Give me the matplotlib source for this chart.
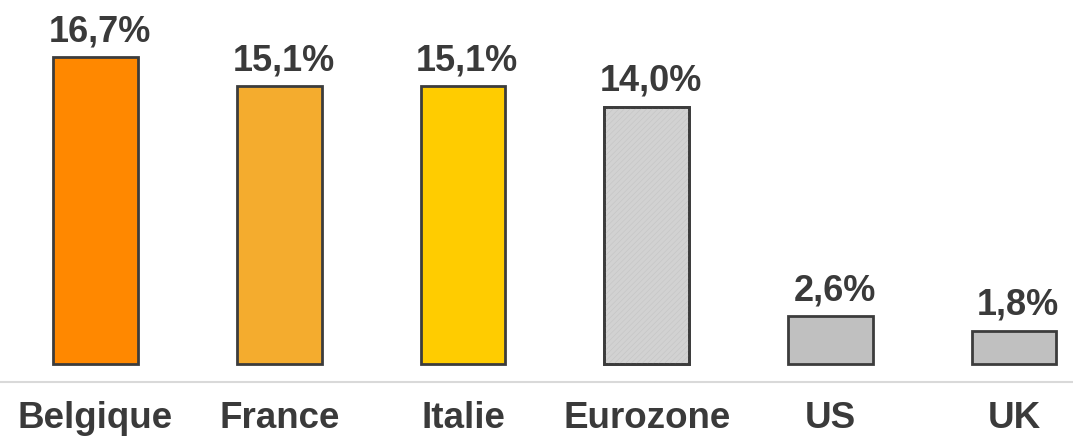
import matplotlib.pyplot as plt
import numpy as np

plt.rcParams['font.family'] = ['Liberation Sans', 'DejaVu Sans']
plt.rcParams['font.weight'] = 'bold'
plt.rcParams['hatch.linewidth'] = 0.4

# données
categories = ['Belgique', 'France', 'Italie', 'Eurozone', 'US', 'UK']
values = [16.7, 15.1, 15.1, 14.0, 2.6, 1.8]
colors = ['#FF8800', '#F4AC2E', '#FFCC00', '#D2D2D2', '#C0C0C0', '#C0C0C0']

text_color = '#3A3A3A'
edge_color = '#3C3C3C'

x = np.arange(len(categories))

fig = plt.figure(figsize=(10.73, 4.36), dpi=100)
ax = fig.add_axes([0, 0.1239, 1, 0.8761])

bars = ax.bar(x, values, width=0.46, color=colors, edgecolor=edge_color, linewidth=2, zorder=2)

# texture fine sur la barre Eurozone
ax.bar(x[3], values[3], width=0.46, color='none', edgecolor='#C4C4C4',
       hatch='//////', linewidth=0, zorder=3)
ax.bar(x[3], values[3], width=0.46, color='none', edgecolor=edge_color,
       linewidth=2, zorder=4)

for xi, v in zip(x, values):
    ax.annotate(f'{v:.1f}%'.replace('.', ','), (xi, v), xytext=(3, 11.5),
                textcoords='offset points', ha='center', va='baseline',
                fontsize=26, fontweight='bold', color=text_color)

ax.set_xlim(-0.52, 5.32)
ax.set_ylim(-0.98, 19.8)
ax.set_xticks(x)
ax.set_xticklabels(categories, fontsize=26.5, fontweight='bold', color=text_color)
ax.tick_params(axis='x', length=0, pad=14)
ax.set_yticks([])

for s in ['top', 'left', 'right']:
    ax.spines[s].set_visible(False)
ax.spines['bottom'].set_color('#D9D9D9')
ax.spines['bottom'].set_linewidth(1.5)

fig.savefig('out.png', dpi=100)
